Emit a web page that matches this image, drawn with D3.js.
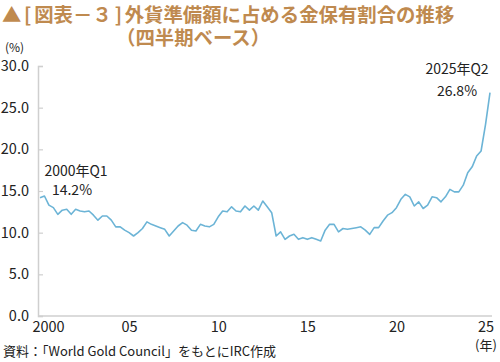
<!DOCTYPE html>
<html><head><meta charset="utf-8">
<script src="https://cdn.jsdelivr.net/npm/d3@7"></script>
<style>
body{margin:0;background:#fff;}
svg{display:block;font-family:"Noto Sans CJK JP","Noto Sans",sans-serif;}
</style></head>
<body><svg id="c" width="500" height="362"></svg>
<script>
// 2000Q1 .. 2025Q2 gold share of FX reserves (%)
const quarters = d3.range(0, 102);
const values = [
14.2,14.4,13.3,13.0,12.2,12.7,12.8,12.2,12.8,12.6,
12.5,12.6,12.1,11.5,12.0,12.0,11.5,10.7,10.7,10.3,
10.0,9.6,10.0,10.5,11.3,11.0,10.8,10.6,10.4,9.6,
10.2,10.8,11.2,10.9,10.3,10.2,11.0,10.8,10.7,11.0,
11.9,12.6,12.5,13.1,12.6,12.5,13.2,12.7,13.2,12.7,
13.8,13.1,12.4,9.6,10.1,9.2,9.6,9.8,9.2,9.4,
9.2,9.4,9.2,9.0,10.3,11.0,11.0,10.1,10.5,10.4,
10.5,10.6,10.7,10.3,9.8,10.6,10.6,11.4,12.1,12.4,
13.0,14.0,14.6,14.3,13.2,13.7,12.9,13.3,14.3,14.2,
13.7,14.3,15.2,14.9,14.9,15.7,17.2,17.9,19.2,19.8,
23.0,26.8];
const yTicks = [0,5,10,15,20,25,30];
const xTickIdx = [0,20,40,60,80,100];
const xTickLabels = ["2000","05","10","15","20","25"];
const title1Parts = ["▲","[","図表－３","]","外貨準備額に占める金保有割合の推移"];
const title2 = "（四半期ベース）";
const annStart = ["2000年Q1","14.2%"];
const annEnd = ["2025年Q2","26.8%"];
const source = "資料：「World Gold Council」をもとにIRC作成";

const svg = d3.select("#c");
const gold = "#BF8A4F";
const x = d3.scaleLinear().domain([0,101]).range([40,490]);
const y = d3.scaleLinear().domain([0,30]).range([316,66]);

const t1 = svg.append("text").attr("x",2).attr("y",22).attr("fill",gold)
  .attr("font-size",19.4).attr("font-weight","bold");
const dxs = [0,2.5,3,3,2.5];
title1Parts.forEach((p,i)=> t1.append("tspan").attr("dx",dxs[i]).text(p));
svg.append("text").attr("x",116).attr("y",45).attr("fill",gold)
  .attr("font-size",19.4).attr("font-weight","bold").text(title2);

svg.append("text").attr("x",5).attr("y",52).attr("font-size",12).attr("fill","#222").text("(%)");

// y axis
const yAxis = d3.axisLeft(y).tickValues(yTicks).tickFormat(d3.format(".1f")).tickSize(-5).tickPadding(9);
const gy = svg.append("g").attr("transform","translate(38,0)").call(yAxis);
gy.select(".domain").attr("stroke","#cfcfcf").attr("stroke-width",1.5);
gy.selectAll(".tick line").attr("stroke","#cfcfcf").attr("stroke-width",1.2);
gy.selectAll(".tick text").attr("font-size",14.5).attr("fill","#222").attr("font-family","'Noto Sans CJK JP',sans-serif");

// x axis
const xAxis = d3.axisBottom(x).tickValues(xTickIdx).tickFormat((d,i)=>xTickLabels[i]).tickSize(0).tickPadding(6);
const gx = svg.append("g").attr("transform","translate(0,316)").call(xAxis);
gx.select(".domain").attr("stroke","#cfcfcf").attr("stroke-width",1.5).attr("d","M38,0H492");
gx.selectAll(".tick text").attr("font-size",14.5).attr("fill","#222").attr("font-family","'Noto Sans CJK JP',sans-serif")
  .attr("dx",(d,i)=> i===0 ? 8 : 0);

svg.append("text").attr("x",486).attr("y",350).attr("text-anchor","middle").attr("font-size",13).attr("fill","#222").text("(年)");

// line
const line = d3.line().x((d,i)=>x(quarters[i])).y(d=>y(d));
svg.append("path").datum(values).attr("d",line).attr("fill","none")
  .attr("stroke","#6CB4D6").attr("stroke-width",1.6).attr("stroke-linejoin","round");

// annotations
const a1 = svg.append("text").attr("font-size",14).attr("fill","#222").attr("text-anchor","middle");
a1.append("tspan").attr("x",x(0)+36).attr("y",y(values[0])-22).text(annStart[0]);
a1.append("tspan").attr("x",x(0)+32).attr("y",y(values[0])-3).text(annStart[1]);
const a2 = svg.append("text").attr("font-size",14).attr("fill","#222").attr("text-anchor","middle");
a2.append("tspan").attr("x",x(101)-33).attr("y",y(values[101])-19).text(annEnd[0]);
a2.append("tspan").attr("x",x(101)-33).attr("y",y(values[101])+3).text(annEnd[1]);

svg.append("text").attr("x",3).attr("y",356).attr("font-size",13).attr("fill","#222").text(source);
</script></body></html>
